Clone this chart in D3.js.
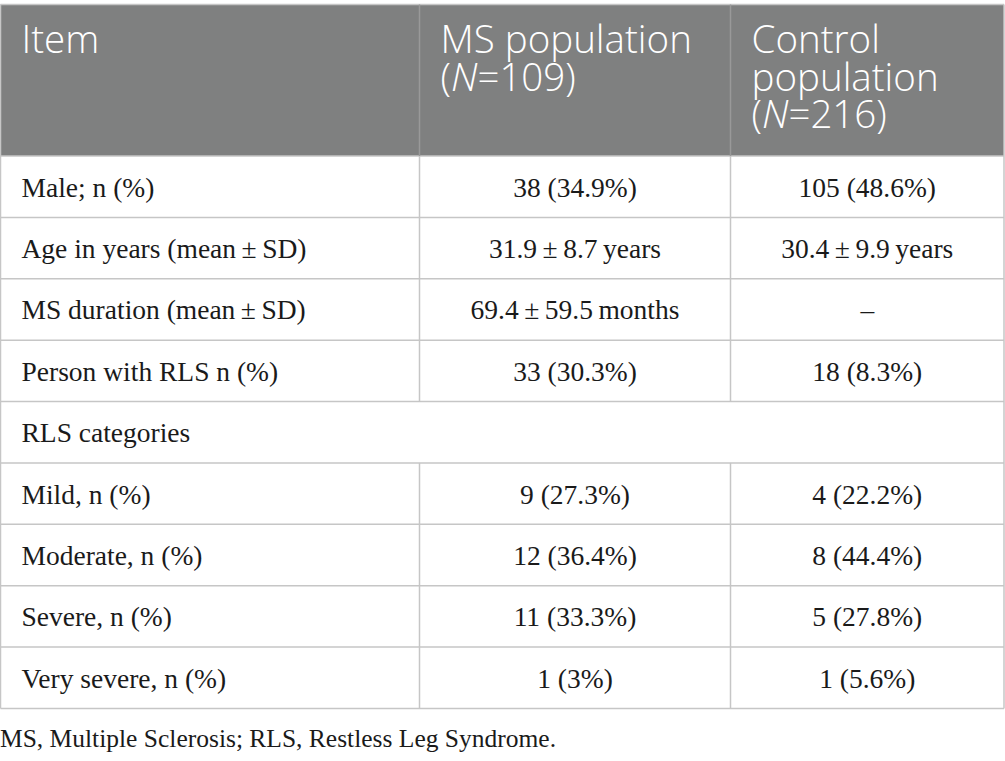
<!DOCTYPE html>
<html>
<head>
<meta charset="utf-8">
<script src="https://cdn.jsdelivr.net/npm/d3@7"></script>
<style>
  html, body { margin: 0; padding: 0; background: #fff; }
  svg { display: block; }
</style>
</head>
<body>
<script>
// ---- data ----
const headers = [
  ["Item"],
  ["MS population", "(|N|=109)"],
  ["Control", "population", "(|N|=216)"]
];
const items = [
  "Male; n (%)",
  "Age in years (mean\u2009\u00b1\u2009SD)",
  "MS duration (mean\u2009\u00b1\u2009SD)",
  "Person with RLS n (%)",
  "RLS categories",
  "Mild, n (%)",
  "Moderate, n (%)",
  "Severe, n (%)",
  "Very severe, n (%)"
];
const msValues = [
  "38 (34.9%)",
  "31.9\u2009\u00b1\u20098.7\u2009years",
  "69.4\u2009\u00b1\u200959.5\u2009months",
  "33 (30.3%)",
  "",
  "9 (27.3%)",
  "12 (36.4%)",
  "11 (33.3%)",
  "1 (3%)"
];
const controlValues = [
  "105 (48.6%)",
  "30.4\u2009\u00b1\u20099.9\u2009years",
  "\u2013",
  "18 (8.3%)",
  "",
  "4 (22.2%)",
  "8 (44.4%)",
  "5 (27.8%)",
  "1 (5.6%)"
];
const footnote = "MS, Multiple Sclerosis; RLS, Restless Leg Syndrome.";

// ---- layout ----
const W = 1005, H = 761;
const colEdges = [0.5, 419.5, 730.5, 1004];
const tableTop = 4.5, headerBottom = 156, tableBottom = 708.5;
const lineColor = "#c6c6c6";
const headerFill = "#7f8080";
const textColor = "#1a1a1a";

const svg = d3.select("body").append("svg").attr("width", W).attr("height", H);

const y = d3.scaleBand().domain(items).range([headerBottom, tableBottom]).padding(0);

// header background
svg.append("rect")
  .attr("x", colEdges[0]).attr("y", tableTop)
  .attr("width", colEdges[3] - colEdges[0]).attr("height", headerBottom - tableTop)
  .attr("fill", headerFill);

// header text
const hdrFont = "'Open Sans', sans-serif";
headers.forEach((lines, ci) => {
  const t = svg.append("text")
    .attr("x", colEdges[ci] + 21)
    .attr("y", 53)
    .attr("fill", "#fff")
    .attr("font-family", hdrFont)
    .attr("font-weight", 300)
    .attr("font-size", 38.5);
  lines.forEach((ln, li) => {
    const parts = ln.split("|");
    parts.forEach((p, pi) => {
      const ts = t.append("tspan").text(p);
      if (pi === 0) ts.attr("x", colEdges[ci] + 21).attr("dy", li === 0 ? 0 : 37.5);
      if (pi === 1) ts.attr("font-style", "italic");
    });
  });
});

// body rows
const bodyFont = "'Liberation Serif', 'Times New Roman', serif";
const rows = svg.append("g");
items.forEach((it, i) => {
  const cy = y(it) + y.bandwidth() / 2 + 10;
  rows.append("text").attr("x", colEdges[0] + 21).attr("y", cy)
    .attr("font-family", bodyFont).attr("font-size", 27.5).attr("fill", textColor)
    .text(it);
  rows.append("text").attr("x", (colEdges[1] + colEdges[2]) / 2).attr("y", cy)
    .attr("text-anchor", "middle")
    .attr("font-family", bodyFont).attr("font-size", 27.5).attr("fill", textColor)
    .text(msValues[i]);
  rows.append("text").attr("x", (colEdges[2] + colEdges[3]) / 2).attr("y", cy)
    .attr("text-anchor", "middle")
    .attr("font-family", bodyFont).attr("font-size", 27.5).attr("fill", textColor)
    .text(controlValues[i]);
});

// grid lines
const g = svg.append("g").attr("stroke", lineColor).attr("stroke-width", 1.5).attr("fill", "none");
const hLines = [tableTop, headerBottom].concat(items.map(it => y(it) + y.bandwidth()));
hLines.forEach(yy => {
  g.append("line").attr("x1", colEdges[0]).attr("x2", colEdges[3]).attr("y1", yy).attr("y2", yy);
});
[colEdges[0], colEdges[3]].forEach(xx => {
  g.append("line").attr("x1", xx).attr("x2", xx).attr("y1", tableTop).attr("y2", tableBottom);
});
const skipRow = "RLS categories";
[colEdges[1], colEdges[2]].forEach(xx => {
  g.append("line").attr("x1", xx).attr("x2", xx).attr("y1", tableTop).attr("y2", headerBottom)
    .attr("stroke", "#999");
  items.forEach(it => {
    if (it === skipRow) return;
    g.append("line").attr("x1", xx).attr("x2", xx).attr("y1", y(it)).attr("y2", y(it) + y.bandwidth());
  });
});

// footnote
svg.append("text").attr("x", 0).attr("y", 747)
  .attr("font-family", bodyFont).attr("font-size", 25.5).attr("fill", textColor)
  .text(footnote);
</script>
</body>
</html>
